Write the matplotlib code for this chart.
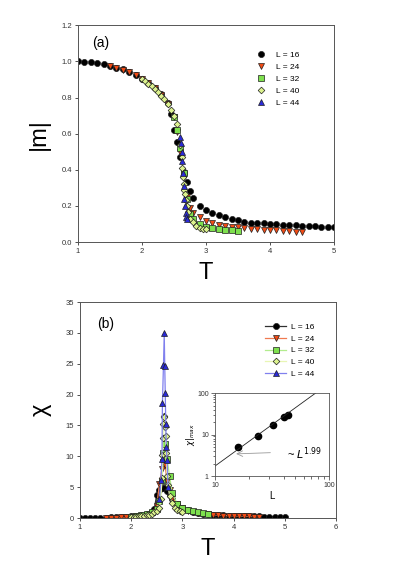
import matplotlib
matplotlib.use("Agg")
import matplotlib.pyplot as plt
from matplotlib.ticker import NullFormatter

plt.rcParams['font.family'] = ['Liberation Sans', 'DejaVu Sans']

# ---- panel (a): |m| vs T ----
T16 = [1.0, 1.1, 1.2, 1.3, 1.4, 1.5, 1.6, 1.7, 1.8, 1.9, 2.0, 2.1, 2.2, 2.3, 2.4, 2.45,
       2.5, 2.55, 2.6, 2.65, 2.7, 2.75, 2.8, 2.9, 3.0, 3.1, 3.2, 3.3, 3.4, 3.5, 3.6, 3.7,
       3.8, 3.9, 4.0, 4.1, 4.2, 4.3, 4.4, 4.5, 4.6, 4.7, 4.8, 4.9, 5.0]
m16 = [1.0, 0.998, 0.994, 0.99, 0.985, 0.976, 0.966, 0.956, 0.942, 0.925, 0.905, 0.882,
       0.855, 0.82, 0.77, 0.71, 0.62, 0.555, 0.47, 0.39, 0.33, 0.285, 0.242, 0.198, 0.178,
       0.16, 0.148, 0.138, 0.125, 0.12, 0.113, 0.108, 0.105, 0.103, 0.1, 0.098, 0.095,
       0.092, 0.092, 0.09, 0.089, 0.087, 0.085, 0.083, 0.082]
T24 = [1.5, 1.6, 1.7, 1.8, 1.9, 2.0, 2.1, 2.2, 2.3, 2.4, 2.5, 2.55, 2.6, 2.65, 2.7, 2.75,
       2.8, 2.9, 3.0, 3.1, 3.2, 3.3, 3.4, 3.5, 3.6, 3.7, 3.8, 3.9, 4.0, 4.1, 4.2, 4.3, 4.4, 4.5]
m24 = [0.975, 0.965, 0.955, 0.94, 0.923, 0.903, 0.88, 0.852, 0.815, 0.765, 0.69, 0.61,
       0.5, 0.36, 0.25, 0.19, 0.162, 0.138, 0.115, 0.103, 0.096, 0.09, 0.085, 0.082, 0.075,
       0.072, 0.07, 0.068, 0.066, 0.064, 0.062, 0.06, 0.058, 0.057]
T32 = [2.5, 2.55, 2.6, 2.65, 2.7, 2.75, 2.8, 2.9, 3.0, 3.1, 3.2, 3.3, 3.4, 3.5]
m32 = [0.69, 0.62, 0.52, 0.38, 0.24, 0.155, 0.13, 0.1, 0.085, 0.078, 0.07, 0.067, 0.064, 0.063]
T40 = [2.0, 2.05, 2.1, 2.15, 2.2, 2.25, 2.3, 2.35, 2.4, 2.45, 2.5, 2.55, 2.6, 2.62, 2.63,
       2.64, 2.65, 2.66, 2.67, 2.68, 2.7, 2.72, 2.75, 2.8, 2.85, 2.9, 2.95, 3.0]
m40 = [0.905, 0.89, 0.876, 0.862, 0.846, 0.83, 0.81, 0.79, 0.765, 0.73, 0.70, 0.655, 0.535,
       0.47, 0.41, 0.36, 0.32, 0.29, 0.265, 0.235, 0.2, 0.165, 0.13, 0.11, 0.09, 0.078, 0.073, 0.07]
T44 = [2.6, 2.61, 2.62, 2.63, 2.64, 2.65, 2.66, 2.67, 2.68, 2.69, 2.7]
m44 = [0.58, 0.55, 0.5, 0.45, 0.38, 0.31, 0.24, 0.2, 0.16, 0.14, 0.13]

# ---- panel (b): chi vs T ----
Tc16 = T16
chi16 = [0.02, 0.03, 0.04, 0.05, 0.06, 0.08, 0.1, 0.12, 0.15, 0.2, 0.28, 0.36, 0.48, 0.65,
         1.0, 1.5, 3.8, 4.6, 4.9, 4.8, 4.4, 3.8, 3.1, 2.3, 1.7, 1.3, 1.05, 0.85, 0.72, 0.62,
         0.54, 0.48, 0.43, 0.39, 0.35, 0.32, 0.3, 0.28, 0.26, 0.25, 0.24, 0.23, 0.22, 0.22, 0.21]
Tc24 = [1.5, 1.6, 1.7, 1.8, 1.9, 2.0, 2.1, 2.2, 2.3, 2.4, 2.5, 2.55, 2.6, 2.63, 2.66, 2.7,
        2.75, 2.8, 2.9, 3.0, 3.1, 3.2, 3.3, 3.4, 3.5, 3.6, 3.7, 3.8, 3.9, 4.0, 4.1, 4.2,
        4.3, 4.4, 4.5]
chi24 = [0.05, 0.06, 0.08, 0.1, 0.13, 0.18, 0.25, 0.35, 0.5, 0.85, 2.0, 5.5, 8.0, 9.1,
         8.6, 6.0, 4.5, 3.3, 2.2, 1.6, 1.2, 0.95, 0.8, 0.68, 0.58, 0.5, 0.44, 0.4, 0.36,
         0.33, 0.3, 0.27, 0.25, 0.23, 0.21]
Tc32 = [2.0, 2.1, 2.2, 2.3, 2.4, 2.5, 2.55, 2.6, 2.63, 2.66, 2.7, 2.75, 2.8, 2.9, 3.0,
        3.1, 3.2, 3.3, 3.4, 3.5]
chi32 = [0.2, 0.3, 0.42, 0.6, 0.9, 1.5, 2.7, 6.0, 10.5, 12.0, 9.5, 6.8, 4.0, 2.3, 1.6,
         1.3, 1.1, 0.9, 0.75, 0.6]
Tc40 = [2.0, 2.05, 2.1, 2.15, 2.2, 2.25, 2.3, 2.35, 2.4, 2.45, 2.5, 2.55, 2.58, 2.6,
        2.61, 2.62, 2.63, 2.64, 2.65, 2.66, 2.67, 2.68, 2.7, 2.72, 2.75, 2.8, 2.85,
        2.9, 2.95, 3.0]
chi40 = [0.15, 0.18, 0.21, 0.25, 0.3, 0.36, 0.45, 0.55, 0.7, 0.9, 1.2, 1.7, 3.0, 6.5,
         10.2, 13.0, 15.3, 16.6, 16.4, 14.8, 13.3, 10.5, 6.8, 5.3, 3.6, 2.4, 1.7,
         1.3, 1.1, 0.95]
Tc44 = [2.55, 2.58, 2.6, 2.61, 2.63, 2.645, 2.655, 2.665, 2.675, 2.685, 2.7, 2.72]
chi44 = [3.0, 6.1, 9.6, 18.7, 24.8, 29.9, 24.6, 20.2, 15.3, 11.5, 9.4, 5.0]

# inset: peak height vs L
L_sizes = [16, 24, 32, 40, 44]
chi_max = [5.0, 9.4, 16.8, 26.5, 30.3]
fit_exp = 1.99
fit_amp = 0.0178
L_fit = [10, 100]

labels = ['L = 16', 'L = 24', 'L = 32', 'L = 40', 'L = 44']
markers = ['o', 'v', 's', 'D', '^']
faces = ['black', '#f04a14', '#7ee04e', '#dcf28e', '#2a2ad8']
lines = ['#303030', '#f07a50', '#b2ec8e', '#e8f6b4', '#8080ee']
sizes = [4.4, 4.0, 3.8, 3.4, 4.0]

fig = plt.figure(figsize=(3.94, 5.66), dpi=100)
ax1 = fig.add_axes([0.198, 0.5724, 0.650, 0.383])
ax2 = fig.add_axes([0.203, 0.0848, 0.650, 0.3816])
axin = fig.add_axes([0.5457, 0.159, 0.289, 0.1466])

top_T = [T16, T24, T32, T40, T44]
top_m = [m16, m24, m32, m40, m44]
for i in range(5):
    ax1.plot(top_T[i], top_m[i], linestyle='none', marker=markers[i], ms=sizes[i],
             mfc=faces[i], mec='#202020', mew=0.5, label=labels[i])

bot_T = [Tc16, Tc24, Tc32, Tc40, Tc44]
bot_c = [chi16, chi24, chi32, chi40, chi44]
for i in range(5):
    ax2.plot(bot_T[i], bot_c[i], color=lines[i], lw=0.9, marker=markers[i], ms=sizes[i],
             mfc=faces[i], mec='#202020', mew=0.5, label=labels[i])

for ax in (ax1, ax2):
    ax.tick_params(direction='out', length=2.5, width=0.6, labelsize=5.5, pad=2,
                   colors='#333333')
    for s in ax.spines.values():
        s.set_linewidth(0.7)
        s.set_color('#555555')

ax1.set_xlim(1, 5)
ax1.set_ylim(0, 1.2)
ax1.set_xticks([1, 2, 3, 4, 5])
ax1.set_yticks([0.0, 0.2, 0.4, 0.6, 0.8, 1.0, 1.2])
ax1.set_yticklabels(['0.0', '0.2', '0.4', '0.6', '0.8', '1.0', '1.2'])
ax1.set_xlabel('T', fontsize=17, labelpad=5)
ax1.set_ylabel('|m|', fontsize=17, labelpad=8)
ax1.text(0.055, 0.95, '(a)', transform=ax1.transAxes, fontsize=10, va='top')
ax1.legend(loc='upper right', bbox_to_anchor=(0.88, 0.90), frameon=False, fontsize=6,
           handlelength=1.0, labelspacing=0.5, handletextpad=1.3, borderpad=0)

ax2.set_xlim(1, 6)
ax2.set_ylim(0, 35)
ax2.set_xticks([1, 2, 3, 4, 5, 6])
ax2.set_yticks([0, 5, 10, 15, 20, 25, 30, 35])
ax2.set_xlabel('T', fontsize=17, labelpad=5)
ax2.set_ylabel('\u03c7', fontsize=17, labelpad=10)
ax2.text(0.066, 0.93, '(b)', transform=ax2.transAxes, fontsize=10, va='top')
ax2.legend(loc='upper right', bbox_to_anchor=(0.93, 0.92), frameon=False, fontsize=6,
           handlelength=2.6, labelspacing=0.45, handletextpad=0.5, borderpad=0)

# inset
axin.plot(L_sizes, chi_max, linestyle='none', marker='o', ms=4.5, color='black')
axin.plot(L_fit, [fit_amp * l ** fit_exp for l in L_fit], color='#222222', lw=0.6)
axin.set_xscale('log')
axin.set_yscale('log')
axin.set_xlim(10, 100)
axin.set_ylim(1, 100)
axin.set_xticks([10, 100])
axin.set_xticklabels(['10', '100'])
axin.set_yticks([1, 10, 100])
axin.set_yticklabels(['1', '10', '100'])
axin.xaxis.set_minor_formatter(NullFormatter())
axin.yaxis.set_minor_formatter(NullFormatter())
axin.tick_params(which='both', direction='out', labelsize=5, pad=1.5, width=0.5,
                 colors='#333333')
axin.tick_params(which='major', length=3)
axin.tick_params(which='minor', length=1.8)
for s in axin.spines.values():
    s.set_linewidth(0.6)
    s.set_color('#555555')
axin.set_xlabel('L', fontsize=7, labelpad=1)
axin.set_ylabel('$\\chi|_{max}$', fontsize=6, labelpad=0)
axin.annotate('', xy=(14.5, 3.4), xytext=(32.4, 3.67),
              arrowprops=dict(arrowstyle='->', color='#999999', lw=0.6))
axin.text(43, 3.4, '~ $L^{1.99}$', fontsize=8, va='center')

fig.savefig('out.png', dpi=100)
